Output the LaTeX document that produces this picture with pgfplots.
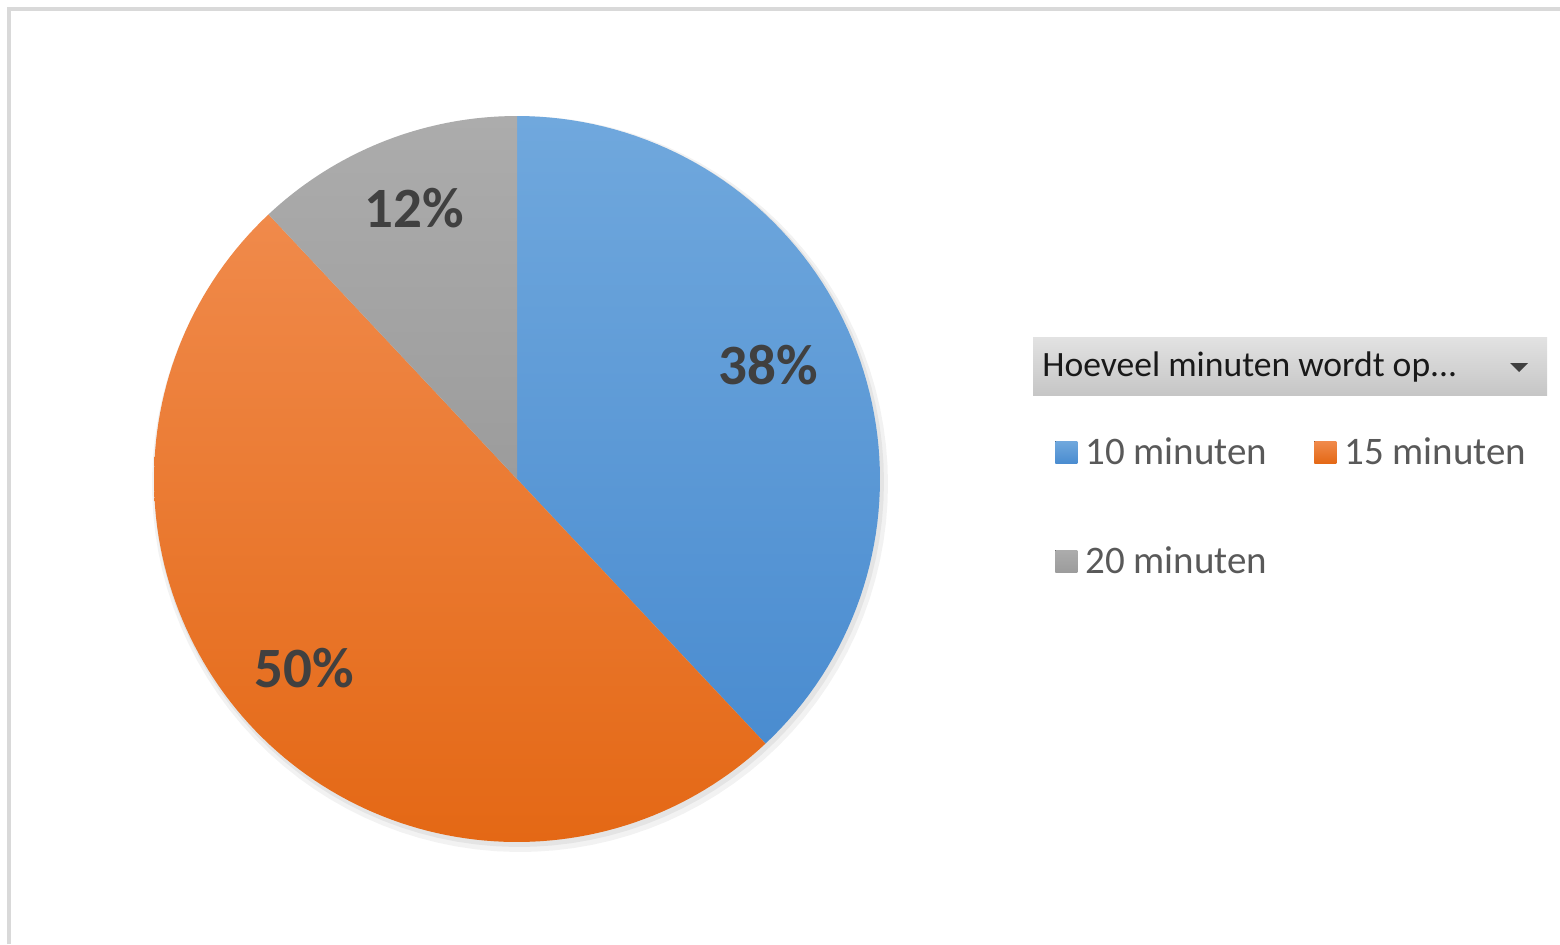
\documentclass[border=0pt]{standalone}
\usepackage{pgfplots}
\pgfplotsset{compat=1.18}
\usepackage{fontspec}
\setmainfont{Carlito}
\definecolor{blueT}{HTML}{70A8DD}
\definecolor{blueB}{HTML}{4A8CD0}
\definecolor{oraT}{HTML}{F08A4B}
\definecolor{oraB}{HTML}{E46815}
\definecolor{grayT}{HTML}{ACACAC}
\definecolor{grayB}{HTML}{9C9C9C}
\definecolor{lab}{HTML}{404040}
\definecolor{legtxt}{HTML}{595959}
\definecolor{frame}{HTML}{D9D9D9}
\definecolor{headT}{HTML}{E2E2E2}
\definecolor{headB}{HTML}{C6C6C6}
% data: share of answers (percent)
\def\valA{38}% 10 minuten
\def\valB{50}% 15 minuten
\def\valC{12}% 20 minuten
\pgfmathsetmacro\aS{90}
\pgfmathsetmacro\aE{90-3.6*\valA}
\pgfmathsetmacro\bE{\aE-3.6*\valB}
\pgfmathsetmacro\cE{\bE-3.6*\valC}
\def\cx{517}\def\cy{479}\def\R{363}
\begin{document}
\begin{tikzpicture}
\begin{axis}[
  name=ax,
  width=780pt, height=472pt, scale only axis,
  xmin=0, xmax=1560, ymin=0, ymax=944, y dir=reverse,
  hide axis, clip=false,
  legend columns=2,
  legend cell align=left,
  legend image code/.code={\fill[#1] (0pt,-5.5pt) rectangle (11pt,5.5pt); \path (13pt,0pt);},
  legend style={at={(axis cs:1049,429)}, anchor=north west, draw=none, fill=none,
    font=\fontsize{19.5}{22}\selectfont, text=legtxt, row sep=35.5pt,
    /tikz/every even column/.append style={column sep=21.5pt}},
]
% soft shadow
\addplot[forget plot, fill=black, fill opacity=0.05, draw=none, domain=0:360, samples=120]
  ({\cx+3+(\R+5)*cos(x)},{\cy+5-(\R+5)*sin(x)}) -- cycle;
\addplot[forget plot, fill=black, fill opacity=0.06, draw=none, domain=0:360, samples=120]
  ({\cx+2+(\R+2)*cos(x)},{\cy+3-(\R+2)*sin(x)}) -- cycle;
% slices
\addplot[draw=none, top color=blueT, bottom color=blueB, domain=\aE:\aS, samples=80]
  ({\cx+\R*cos(x)},{\cy-\R*sin(x)}) -- (\cx,\cy) -- cycle;
\addlegendentry{10 minuten}
\addplot[draw=none, top color=oraT, bottom color=oraB, domain=\bE:\aE, samples=120]
  ({\cx+\R*cos(x)},{\cy-\R*sin(x)}) -- (\cx,\cy) -- cycle;
\addlegendentry{15 minuten}
\addplot[draw=none, top color=grayT, bottom color=grayB, domain=\cE:\bE, samples=40]
  ({\cx+\R*cos(x)},{\cy-\R*sin(x)}) -- (\cx,\cy) -- cycle;
\addlegendentry{20 minuten}
% data labels
\node[text=lab, font=\fontsize{28.5}{32}\selectfont\bfseries] at (axis cs:768,365) {\valA\%};
\node[text=lab, font=\fontsize{28.5}{32}\selectfont\bfseries] at (axis cs:304,668) {\valB\%};
\node[text=lab, font=\fontsize{28.5}{32}\selectfont\bfseries] at (axis cs:414,208) {\valC\%};
% field button
\path[top color=headT, bottom color=headB] (axis cs:1033,337) rectangle (axis cs:1547,395);
\node[anchor=west, inner sep=0pt, font=\fontsize{17.8}{20}\selectfont, text=black!90]
  at (axis cs:1042,367) {Hoeveel minuten wordt op...};
\fill[black!75] (axis cs:1510,363) -- (axis cs:1528,363) -- (axis cs:1519,372) -- cycle;
% frame
\draw[frame, line width=2pt] (axis cs:9,944) -- (axis cs:9,9) -- (axis cs:1560,9);
\end{axis}
\pgfresetboundingbox
\path (ax.south west) rectangle (ax.north east);
\end{tikzpicture}
\end{document}
